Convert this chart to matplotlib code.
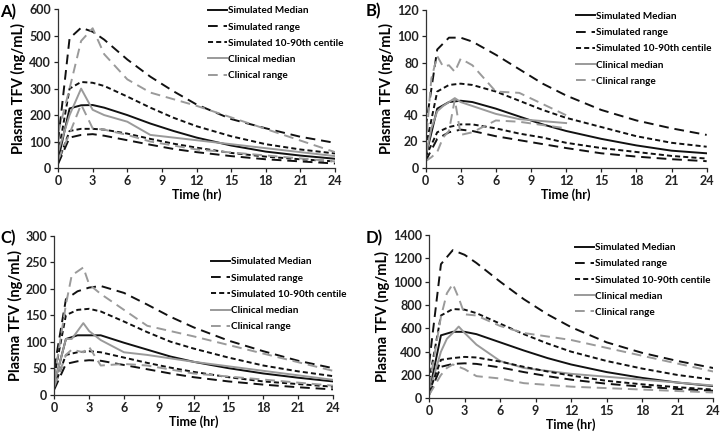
import matplotlib
matplotlib.use("Agg")
import matplotlib.pyplot as plt

plt.rcParams['font.family'] = ['Lato', 'DejaVu Sans']
plt.rcParams['font.weight'] = 'bold'

# ---------------- data ----------------
t_sim = [0, 1, 2, 3, 4, 6, 8, 10, 12, 15, 18, 21, 24]

# Panel A
a_med = [30, 225, 237, 238, 228, 200, 168, 140, 115, 85, 62, 47, 35]
a_rng_hi = [100, 490, 530, 515, 485, 410, 345, 290, 240, 185, 150, 118, 95]
a_rng_lo = [15, 115, 125, 128, 122, 105, 88, 72, 60, 45, 33, 25, 17]
a_c90_hi = [50, 300, 325, 322, 310, 270, 228, 190, 158, 120, 90, 70, 55]
a_c90_lo = [20, 140, 148, 148, 145, 130, 110, 92, 77, 57, 43, 33, 25]
a_t_clin = [0, 1, 2, 3, 4, 6, 8, 12, 24]
a_clin_med = [60, 200, 300, 220, 200, 175, 125, 105, 45]
a_clin_hi = [130, 300, 480, 528, 430, 335, 285, 235, 60]
a_clin_lo = [30, 130, 240, 150, 145, 125, 100, 70, 25]

# Panel B
b_med = [8, 45, 50, 51, 50, 45, 39, 33, 28, 22, 17, 13, 11]
b_rng_hi = [30, 90, 99, 99, 96, 86, 75, 64, 55, 44, 36, 30, 25]
b_rng_lo = [5, 22, 27, 29, 28, 24, 21, 18, 15, 11, 8.5, 6.5, 5]
b_c90_hi = [15, 58, 63, 64, 63, 58, 51, 44, 38, 31, 24, 19, 16]
b_c90_lo = [8, 27, 31, 33, 33, 30, 26, 23, 19, 15, 12, 9, 7]
b_t_clin = [0, 0.5, 1, 1.5, 2, 2.5, 3, 4, 6, 8, 12]
b_clin_med = [8, 30, 43, 47, 50, 53, 50, 47, 41, 37, 34]
b_clin_hi = [15, 68, 85, 77, 78, 73, 83, 78, 58, 57, 40]
b_clin_lo = [5, 8, 12, 23, 28, 52, 25, 27, 36, 35, 30]

# Panel C
c_med = [20, 105, 112, 112, 112, 98, 85, 72, 62, 50, 40, 32, 25]
c_rng_hi = [50, 180, 195, 202, 205, 192, 170, 147, 127, 102, 82, 64, 50]
c_rng_lo = [10, 58, 63, 65, 64, 56, 48, 40, 33, 25, 19, 14, 10]
c_c90_hi = [35, 150, 160, 162, 157, 138, 118, 100, 87, 70, 55, 44, 35]
c_c90_lo = [15, 75, 80, 82, 80, 70, 60, 51, 43, 33, 25, 20, 15]
c_t_clin = [0, 1, 1.5, 2.5, 3, 4, 6, 8, 12, 24]
c_clin_med = [20, 105, 105, 135, 120, 103, 80, 75, 62, 28]
c_clin_hi = [30, 170, 225, 240, 208, 190, 160, 130, 110, 45]
c_clin_lo = [15, 75, 85, 80, 90, 55, 58, 55, 40, 17]

# Panel D
d_med = [50, 540, 570, 570, 550, 480, 410, 345, 290, 225, 175, 135, 105]
d_rng_hi = [300, 1150, 1270, 1230, 1160, 1000, 850, 720, 610, 480, 390, 320, 260]
d_rng_lo = [30, 270, 295, 300, 295, 265, 225, 190, 160, 125, 100, 80, 65]
d_c90_hi = [150, 710, 765, 760, 730, 640, 550, 470, 400, 320, 255, 200, 160]
d_c90_lo = [50, 330, 345, 355, 350, 315, 270, 230, 195, 150, 120, 95, 75]
d_t_clin = [0, 1, 1.5, 2, 2.5, 3, 4, 6, 8, 12, 24]
d_clin_med = [50, 400, 510, 560, 615, 560, 460, 320, 260, 210, 110]
d_clin_hi = [100, 700, 900, 980, 860, 720, 710, 620, 560, 500, 230]
d_clin_lo = [30, 200, 260, 290, 270, 250, 190, 170, 130, 100, 50]

x_ticks = [0, 3, 6, 9, 12, 15, 18, 21, 24]
panel_labels = ["A)", "B)", "C)", "D)"]

panels = [
    ([0.0806, 0.6164, 0.3847, 0.3626], 600, 100, (0.000, 0.992), (1.030, 1.018),
     a_med, a_rng_hi, a_rng_lo, a_c90_hi, a_c90_lo, a_t_clin, a_clin_med, a_clin_hi, a_clin_lo),
    ([0.5910, 0.6170, 0.3905, 0.3600], 120, 20, (0.508, 0.994), (1.017, 0.988),
     b_med, b_rng_hi, b_rng_lo, b_c90_hi, b_c90_lo, b_t_clin, b_clin_med, b_clin_hi, b_clin_lo),
    ([0.0754, 0.0989, 0.3871, 0.3631], 300, 50, (0.000, 0.475), (1.049, 0.863),
     c_med, c_rng_hi, c_rng_lo, c_c90_hi, c_c90_lo, c_t_clin, c_clin_med, c_clin_hi, c_clin_lo),
    ([0.5960, 0.0906, 0.3944, 0.3729], 1400, 200, (0.508, 0.475), (0.992, 0.950),
     d_med, d_rng_hi, d_rng_lo, d_c90_hi, d_c90_lo, d_t_clin, d_clin_med, d_clin_hi, d_clin_lo),
]

BLACK = '#111111'
GREY = '#9a9a9a'
long_dash = (0, (5, 3))
short_dash = (0, (2.6, 1.6))

fig = plt.figure(figsize=(7.2, 4.38), dpi=100)

for lab, (rect, ymax, ystep, labpos, legpos, med, rhi, rlo, chi, clo, tc, cmed, chi_c, clo_c) in zip(panel_labels, panels):
    ax = fig.add_axes(rect)
    ax.plot(t_sim, med, color=BLACK, lw=1.4, ls='-', label='Simulated Median')
    ax.plot(t_sim, rhi, color=BLACK, lw=1.4, ls=long_dash, label='Simulated range')
    ax.plot(t_sim, chi, color=BLACK, lw=1.4, ls=short_dash, label='Simulated 10-90th centile')
    ax.plot(tc, cmed, color=GREY, lw=1.4, ls='-', label='Clinical median')
    ax.plot(tc, chi_c, color=GREY, lw=1.4, ls=long_dash, label='Clinical range')
    ax.plot(t_sim, rlo, color=BLACK, lw=1.4, ls=long_dash)
    ax.plot(t_sim, clo, color=BLACK, lw=1.4, ls=short_dash)
    ax.plot(tc, clo_c, color=GREY, lw=1.4, ls=long_dash)

    ax.set_xlim(0, 24)
    ax.set_ylim(0, ymax)
    ax.set_xticks(x_ticks)
    ax.set_yticks(list(range(0, ymax + 1, ystep)))
    for s in ['top', 'right']:
        ax.spines[s].set_visible(False)
    for s in ['left', 'bottom']:
        ax.spines[s].set_color('#333333')
        ax.spines[s].set_linewidth(0.9)
    ax.tick_params(axis='both', labelsize=9, length=3, width=0.9, direction='out', pad=2,
                   colors='#222222')
    for tl in ax.get_xticklabels() + ax.get_yticklabels():
        tl.set_fontweight('bold')
    ax.set_xlabel('Time (hr)', fontsize=9, fontweight='bold', labelpad=1)
    ax.set_ylabel('Plasma TFV (ng/mL)', fontsize=10.5, fontweight='bold', labelpad=2)
    leg = ax.legend(loc='upper right', bbox_to_anchor=legpos, frameon=False,
                    fontsize=7.2, handlelength=1.9, handletextpad=0.1, labelspacing=0.72,
                    borderaxespad=0.0, borderpad=0.0)
    for txt in leg.get_texts():
        txt.set_fontweight('bold')

    fig.text(labpos[0], labpos[1], lab, fontsize=12, fontweight='bold', va='top', ha='left')

fig.savefig('out.png', dpi=100)
